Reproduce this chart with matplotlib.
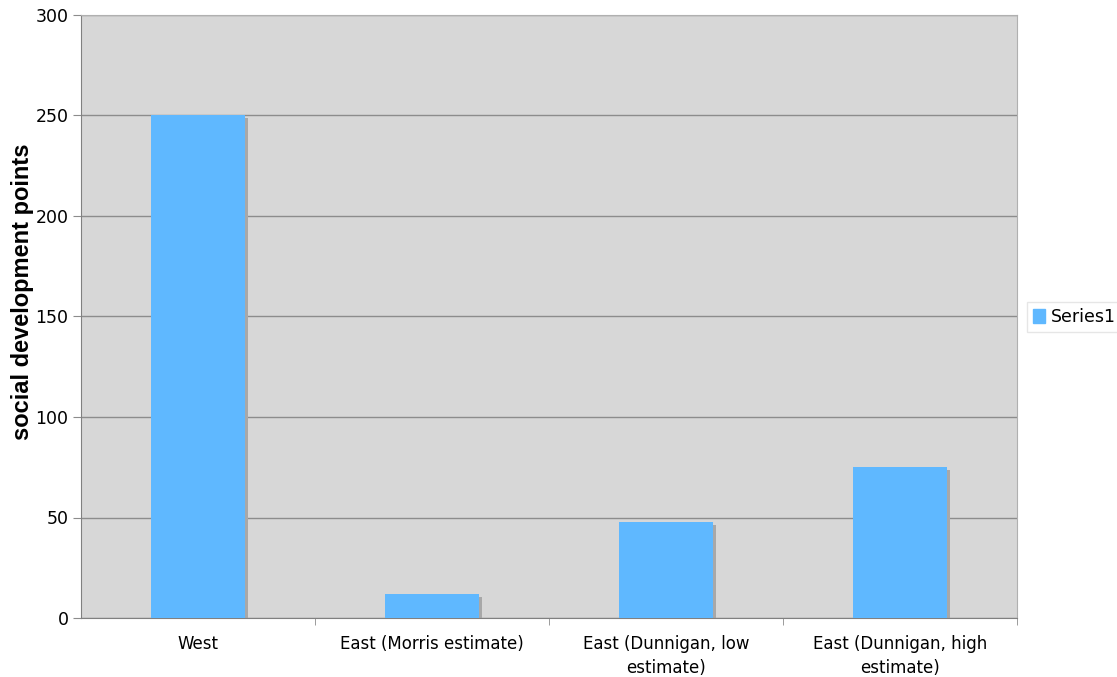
import matplotlib
matplotlib.use("Agg")
import matplotlib.pyplot as plt
import matplotlib.transforms as mtransforms
from matplotlib.patches import Patch

categories = ["West", "East (Morris estimate)", "East (Dunnigan, low\nestimate)", "East (Dunnigan, high\nestimate)"]
values = [250, 12, 48, 75]
yticks = [0, 50, 100, 150, 200, 250, 300]

fig = plt.figure(figsize=(11.17, 6.77), dpi=100)
ax = fig.add_axes([81/1117, 59/677, 936/1117, 603/677])
ax.set_facecolor("#d7d7d7")

x = list(range(len(categories)))
shadow_tr = mtransforms.offset_copy(ax.transData, fig=fig, x=3, y=-3, units="dots")
ax.bar(x, values, width=0.4, color="#a8a8a8", transform=shadow_tr, zorder=2)
ax.bar(x, values, width=0.4, color="#5fb8ff", zorder=3)

ax.set_xlim(-0.5, len(categories) - 0.5)
ax.set_ylim(0, 300)
ax.set_yticks(yticks)
ax.yaxis.grid(True, color="#8c8c8c", linewidth=1)
ax.set_axisbelow(True)
ax.set_xticks(x)
ax.set_xticklabels(categories, fontsize=12, linespacing=1.45)
ax.tick_params(axis="x", length=0, pad=12)
ax.set_xticks([i + 0.5 for i in range(len(categories))], minor=True)
ax.tick_params(axis="x", which="minor", length=5, color="#8c8c8c")
ax.tick_params(axis="y", labelsize=12.5, length=6, color="#8c8c8c", pad=3)
for s in ["left", "bottom"]:
    ax.spines[s].set_color("#808080")
for s in ["top", "right"]:
    ax.spines[s].set_color("#b0b0b0")
fig.text(23/1117, 1 - 292/677, "social development points", rotation=90,
         fontsize=17, fontweight="bold", family="Liberation Sans",
         ha="center", va="center")

leg = fig.legend(handles=[Patch(color="#5fb8ff", label="Series1")], loc="center left",
                 bbox_to_anchor=(1027/1117, 1 - 317/677), frameon=True, fontsize=12.5,
                 handlelength=0.7, handleheight=0.8, handletextpad=0.3, borderpad=0.35,
                 fancybox=False, borderaxespad=0)
leg.get_frame().set_edgecolor("#e0e0e0")
leg.get_frame().set_linewidth(1)

fig.savefig("out.png", dpi=100)
